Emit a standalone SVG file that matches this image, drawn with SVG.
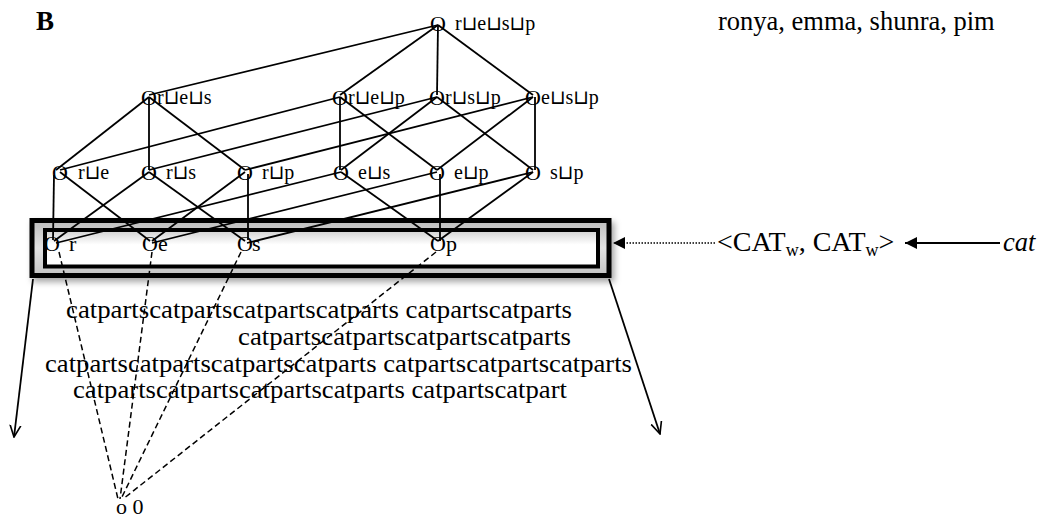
<svg xmlns="http://www.w3.org/2000/svg" width="1040" height="524" viewBox="0 0 1040 524">
<style>
text{font-family:"Liberation Serif","DejaVu Sans",serif;fill:#000}
.o{font-size:22px;text-anchor:middle}
.lb{font-size:20px}
.big{font-size:26.5px}
.cp{font-size:24.5px}
.e{stroke:#000;stroke-width:1.8;fill:none}
.d{stroke:#000;stroke-width:1.5;fill:none;stroke-dasharray:6 3.5}
</style>
<defs>
<marker id="open" viewBox="0 0 12 12" refX="11" refY="6" markerWidth="13" markerHeight="13" markerUnits="userSpaceOnUse" orient="auto">
<path d="M0,1 L11,6 L0,11" fill="none" stroke="#000" stroke-width="1.5"/>
</marker>
<marker id="fill" viewBox="0 0 12 12" refX="12" refY="6" markerWidth="14" markerHeight="12" markerUnits="userSpaceOnUse" orient="auto">
<path d="M0,0 L12,6 L0,12 Z" fill="#000"/>
</marker>
<linearGradient id="inner" x1="0" y1="0" x2="0" y2="1">
<stop offset="0" stop-color="#cfcfcf"/>
<stop offset="0.4" stop-color="#fff"/>
<stop offset="1" stop-color="#fff"/>
</linearGradient>
<linearGradient id="band" x1="0" y1="0" x2="0" y2="1">
<stop offset="0" stop-color="#bdbdbd"/>
<stop offset="0.5" stop-color="#e2e2e2"/>
<stop offset="1" stop-color="#c4c4c4"/>
</linearGradient>
<filter id="sh" x="-5%" y="-20%" width="110%" height="150%">
<feDropShadow dx="3" dy="4" stdDeviation="3" flood-color="#000" flood-opacity="0.35"/>
</filter>
</defs>
<rect width="1040" height="524" fill="#fff"/>
<text x="36" y="30" style="font-size:27px;font-weight:bold">B</text>
<text x="718" y="30" class="big">ronya, emma, shunra, pim</text>

<g id="box">
<rect x="32" y="220.5" width="577" height="55" fill="url(#band)" stroke="#000" stroke-width="5" filter="url(#sh)"/>
<rect x="45" y="230" width="553" height="36.5" fill="url(#inner)" stroke="#000" stroke-width="4"/>
</g>

<g id="texts">
<text x="66" y="318" class="cp" textLength="506" lengthAdjust="spacingAndGlyphs">catpartscatpartscatpartscatparts catpartscatparts</text>
<text x="238" y="345" class="cp" textLength="333" lengthAdjust="spacingAndGlyphs">catpartscatpartscatpartscatparts</text>
<text x="45" y="372" class="cp" textLength="587" lengthAdjust="spacingAndGlyphs">catpartscatpartscatpartscatparts catpartscatpartscatparts</text>
<text x="73" y="398" class="cp" textLength="494" lengthAdjust="spacingAndGlyphs">catpartscatpartscatpartscatparts catpartscatpart</text>
</g>

<g id="connectors">
<line class="e" x1="438" y1="25" x2="149" y2="95"/>
<line class="e" x1="438" y1="25" x2="340" y2="95"/>
<line class="e" x1="438" y1="25" x2="437" y2="95"/>
<line class="e" x1="438" y1="25" x2="533" y2="95"/>
<line class="e" x1="149" y1="97" x2="56" y2="170"/>
<line class="e" x1="149" y1="97" x2="149" y2="170"/>
<line class="e" x1="149" y1="97" x2="245" y2="170"/>
<line class="e" x1="340" y1="97" x2="60" y2="170"/>
<line class="e" x1="340" y1="97" x2="340" y2="170"/>
<line class="e" x1="340" y1="97" x2="437" y2="170"/>
<line class="e" x1="437" y1="97" x2="149" y2="170"/>
<line class="e" x1="437" y1="97" x2="341" y2="170"/>
<line class="e" x1="437" y1="97" x2="533" y2="170"/>
<line class="e" x1="533" y1="97" x2="245" y2="170"/>
<line class="e" x1="533" y1="97" x2="437" y2="170"/>
<line class="e" x1="535" y1="97" x2="535" y2="170"/>
<line class="e" x1="54" y1="175" x2="53" y2="240"/>
<line class="e" x1="60" y1="172" x2="150" y2="241"/>
<line class="e" x1="149" y1="172" x2="54" y2="241"/>
<line class="e" x1="149" y1="172" x2="245" y2="241"/>
<line class="e" x1="248" y1="174" x2="248" y2="240"/>
<line class="e" x1="245" y1="172" x2="152" y2="241"/>
<line class="e" x1="56" y1="243" x2="341" y2="172"/>
<line class="e" x1="152" y1="243" x2="437" y2="172"/>
<line class="e" x1="247" y1="243" x2="533" y2="172"/>
<line class="e" x1="341" y1="172" x2="438" y2="241"/>
<line class="e" x1="440" y1="174" x2="440" y2="241"/>
<line class="e" x1="533" y1="172" x2="438" y2="241"/>
<line class="d" x1="59" y1="252" x2="118" y2="499"/>
<line class="d" x1="152" y1="252" x2="120" y2="499"/>
<line class="d" x1="241" y1="252" x2="121" y2="499"/>
<line class="d" x1="436" y1="252" x2="123" y2="499"/>
<line class="e" x1="33" y1="279" x2="14" y2="437" marker-end="url(#open)"/>
<line class="e" x1="609" y1="279" x2="660" y2="434" marker-end="url(#open)"/>
<line x1="715" y1="243" x2="613" y2="243" stroke="#000" stroke-width="1.5" stroke-dasharray="1.5 1.5" marker-end="url(#fill)"/>
<line x1="1000" y1="243" x2="905" y2="243" stroke="#000" stroke-width="1.8" marker-end="url(#fill)"/>
</g>

<g id="n-top"><text class="o" x="438" y="31">O</text><text class="lb" x="455" y="30">r⊔e⊔s⊔p</text></g>
<g id="n-res"><text class="o" x="149" y="105">O</text><text class="lb" x="157" y="104">r⊔e⊔s</text></g>
<g id="n-rep"><text class="o" x="340" y="105">O</text><text class="lb" x="348" y="104">r⊔e⊔p</text></g>
<g id="n-rsp"><text class="o" x="437" y="105">O</text><text class="lb" x="445" y="104">r⊔s⊔p</text></g>
<g id="n-esp"><text class="o" x="533" y="105">O</text><text class="lb" x="541" y="104">e⊔s⊔p</text></g>
<g id="n-re"><text class="o" x="60" y="180">O</text><text class="lb" x="78" y="179">r⊔e</text></g>
<g id="n-rs"><text class="o" x="149" y="180">O</text><text class="lb" x="166" y="179">r⊔s</text></g>
<g id="n-rp"><text class="o" x="245" y="180">O</text><text class="lb" x="262" y="179">r⊔p</text></g>
<g id="n-es"><text class="o" x="341" y="180">O</text><text class="lb" x="358" y="179">e⊔s</text></g>
<g id="n-ep"><text class="o" x="437" y="180">O</text><text class="lb" x="454" y="179">e⊔p</text></g>
<g id="n-sp"><text class="o" x="533" y="180">O</text><text class="lb" x="550" y="179">s⊔p</text></g>
<g id="n-r"><text class="o" x="52" y="251">O</text><text x="69" y="251" style="font-size:22px">r</text></g>
<g id="n-e"><text class="o" x="150" y="251">O</text><text x="158" y="251" style="font-size:22px">e</text></g>
<g id="n-s"><text class="o" x="245" y="251">O</text><text x="252" y="251" style="font-size:22px">s</text></g>
<g id="n-p"><text class="o" x="438" y="251">O</text><text x="446" y="251" style="font-size:22px">p</text></g>
<g id="n-zero"><text x="116" y="514" style="font-size:22px">o 0</text></g>

<g id="label-cat">
<text x="717" y="251" style="font-size:28px">&lt;CAT<tspan style="font-size:18px" dy="5">w</tspan><tspan dy="-5">, CAT</tspan><tspan style="font-size:18px" dy="5">w</tspan><tspan dy="-5">&gt;</tspan></text>
<text x="1003" y="251" class="big" style="font-style:italic">cat</text>
</g>
</svg>
